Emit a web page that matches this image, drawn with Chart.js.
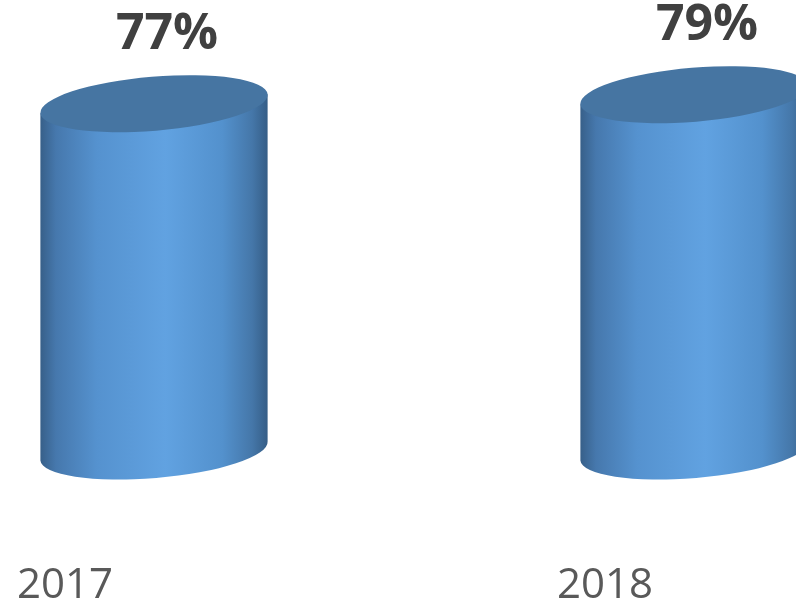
<!DOCTYPE html>
<html>
<head>
<meta charset="utf-8">
<script src="https://cdn.jsdelivr.net/npm/chart.js@4.4.1/dist/chart.umd.min.js"></script>
<style>
  html, body { margin: 0; padding: 0; background: #ffffff; }
  #wrap { width: 796px; height: 601px; }
</style>
</head>
<body>
<div id="wrap"><canvas id="myChart"></canvas></div>
<script>
// values
const years = ['2017', '2018'];
const shares = [77, 79];

// draws every bar as a 3D cylinder, using the bar element geometry from chart.js
const cylinders = {
    id: 'cylinders',
    afterDatasetsDraw(chart) {
        const ctx = chart.ctx;
        const meta = chart.getDatasetMeta(0);
        meta.data.forEach((bar, i) => {
            const rx = bar.width / 2;
            const ry = rx * 0.237;
            const tilt = -0.083;
            const dx = rx * Math.cos(tilt), dy = rx * Math.sin(tilt);
            const top = bar.y, base = bar.base, cx = bar.x;

            // body
            const grad = ctx.createLinearGradient(cx - rx, 0, cx + rx, 0);
            grad.addColorStop(0, '#375f88');
            grad.addColorStop(0.07, '#4678ad');
            grad.addColorStop(0.25, '#5592cf');
            grad.addColorStop(0.55, '#61a2e1');
            grad.addColorStop(0.8, '#5391cd');
            grad.addColorStop(0.93, '#4577a9');
            grad.addColorStop(1, '#355d86');
            ctx.save();
            ctx.beginPath();
            ctx.moveTo(cx + dx, base + dy);
            ctx.ellipse(cx, base, rx, ry, tilt, 0, Math.PI);
            ctx.lineTo(cx - dx, top - dy);
            ctx.lineTo(cx + dx, top + dy);
            ctx.closePath();
            ctx.fillStyle = grad;
            ctx.fill();

            // top face
            ctx.beginPath();
            ctx.ellipse(cx, top, rx, ry, tilt, 0, Math.PI * 2);
            ctx.fillStyle = '#4675a2';
            ctx.fill();

            // value label
            ctx.font = 'bold 50px "Open Sans"';
            ctx.fillStyle = '#404040';
            ctx.textAlign = 'center';
            ctx.textBaseline = 'middle';
            ctx.fillText(shares[i] + '%', cx + 13, top - 69);
            ctx.restore();
        });
    }
};

var context = document.getElementById('myChart').getContext('2d');
var myChart = new Chart(context, {
    type: 'bar',
    data: {
        labels: years,
        datasets: [{
            data: shares,
            backgroundColor: 'rgba(0,0,0,0)',
            borderWidth: 0,
            barThickness: 228,
            clip: false
        }]
    },
    options: {
        responsive: true,
        maintainAspectRatio: false,
        animation: false,
        layout: {
            padding: { left: 154, right: 102, top: 0, bottom: 0 }
        },
        plugins: {
            legend: { display: false },
            tooltip: { enabled: false }
        },
        scales: {
            x: {
                offset: false,
                grid: { display: false },
                border: { display: false },
                ticks: {
                    labelOffset: -89,
                    padding: 102,
                    color: '#595959',
                    font: { family: 'Open Sans', size: 42 }
                },
                afterFit(scale) {
                    scale.height = 150;
                    scale.paddingLeft = 0;
                    scale.paddingRight = 0;
                }
            },
            y: {
                display: false,
                min: 0,
                max: 100
            }
        }
    },
    plugins: [cylinders]
});
</script>
</body>
</html>
